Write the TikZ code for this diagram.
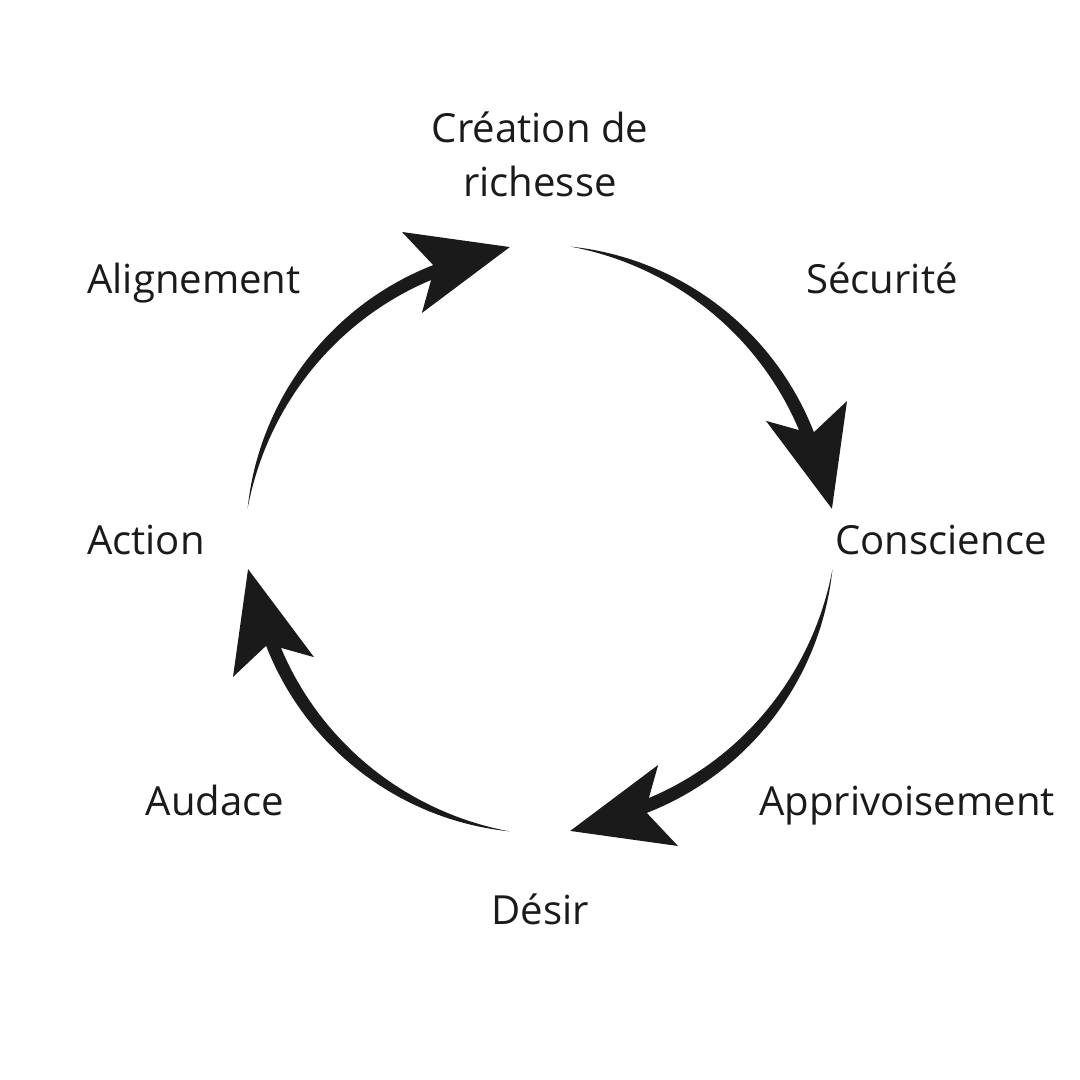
\documentclass[tikz,border=0pt]{standalone}
\usepackage{fontspec}
\setmainfont{Open Sans}

\definecolor{ink}{HTML}{1A1A1A}
\tikzset{
    lbl/.style={anchor=base, text=ink, font=\fontsize{11.4}{15.4}\selectfont},
    curl/.style={fill=ink}
}

\begin{document}
\begin{tikzpicture}[x=0.01cm, y=0.01cm]
    \useasboundingbox (-540,-541) rectangle (540,539);
    \coordinate (c) at (0,0);

    % labels
    \node[lbl] (creation) at (0,396) {Création de};
    \node[lbl] (richesse) at (0,342) {richesse};
    \node[lbl] (securite) at (342,245) {Sécurité};
    \node[lbl] (conscience) at (401,-16) {Conscience};
    \node[lbl] (apprivoisement) at (367,-276) {Apprivoisement};
    \node[lbl] (desir) at (0,-385) {Désir};
    \node[lbl] (audace) at (-325,-276) {Audace};
    \node[lbl] (action) at (-394,-16) {Action};
    \node[lbl] (alignement) at (-346,245) {Alignement};

    % arrows
    \foreach \r in {0,90,180,270}
        \fill[curl, shift={(c)}, rotate=\r]
            plot[domain=84:21.3, samples=40, variable=\t] (\t:294)
            -- (24.2:336.6) -- (5.9:293.5) -- (27.6:255) -- (22.8:281)
            -- plot[domain=22.8:84, samples=40, variable=\t]
                (\t:{294-13*((84-\t)/61.2)*(2-(84-\t)/61.2)})
            -- cycle;
\end{tikzpicture}
\end{document}
